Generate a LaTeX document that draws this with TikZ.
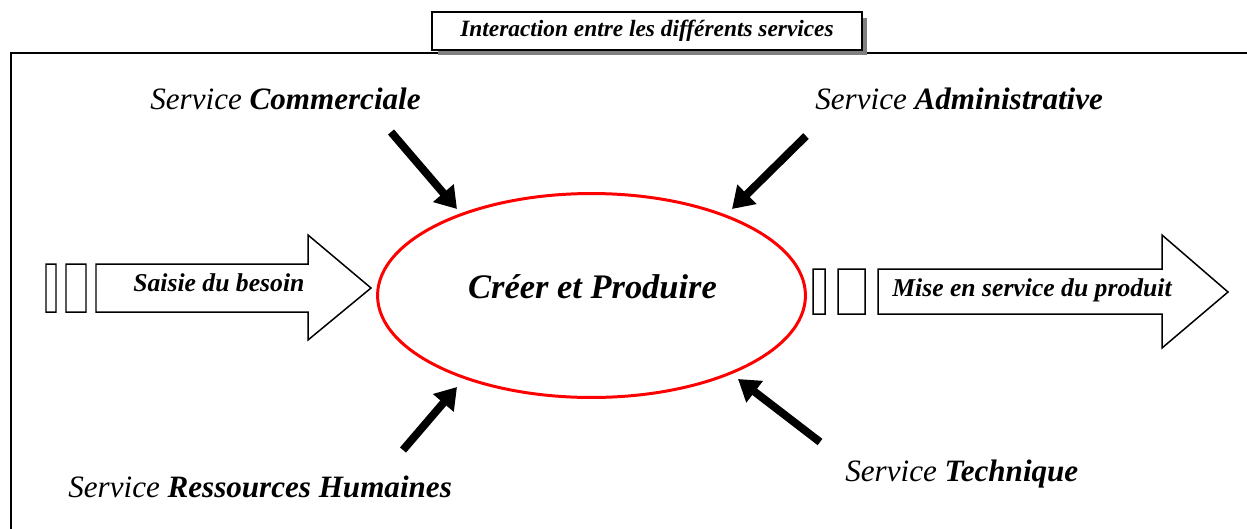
\documentclass[tikz,border=0pt]{standalone}
\usepackage{fontspec}
\setmainfont{Liberation Serif}
\usetikzlibrary{arrows.meta,shapes.geometric,shadows}

\begin{document}
\begin{tikzpicture}[x=0.02cm,y=-0.02cm,
		svc/.style={anchor=base west,inner sep=0,font=\fontsize{17.7}{20}\selectfont\itshape},
		lab/.style={anchor=base west,inner sep=0,font=\fontsize{14.6}{17}\selectfont\bfseries\itshape},
		feed/.style={line width=4.5pt,-{Triangle[length=0.42cm,width=0.52cm]}},
		blk/.style={draw,line width=0.85pt,fill=white}]
			\useasboundingbox (0,0) rectangle (1247,528);
			\draw[line width=1.4pt] (11,560) -- (11,53) -- (1280,53);
			\node[draw,line width=1pt,fill=white,minimum width=8.6cm,minimum height=0.76cm,
				drop shadow={shadow xshift=0.11cm,shadow yshift=-0.11cm,fill=gray,opacity=1}] (t) at (647,31)
				{\fontsize{13.3}{15}\selectfont\bfseries\itshape Interaction entre les différents services};
			\node[ellipse,draw=red,line width=1.7pt,minimum width=8.56cm,minimum height=4.08cm,inner sep=0] (c) at (591.5,295.5) {};
			\node[anchor=base,inner sep=0,font=\fontsize{19.6}{22}\selectfont\bfseries\itshape] (c-l) at (592.5,298) {Créer et Produire};
			\path[blk] (46,264) rectangle (56,312) (66,264) rectangle (86,312)
				(96,264) -- (308,264) -- (308,235) -- (371,288) -- (308,340) -- (308,312) -- (96,312) -- cycle;
			\path[blk] (813,269) rectangle (825,314) (838,269) rectangle (865,314)
				(878,269) -- (1162,269) -- (1162,235) -- (1228,292) -- (1162,348) -- (1162,314) -- (878,314) -- cycle;
			\node[lab] (in) at (133,291) {Saisie du besoin};
			\node[lab] (out) at (892,296) {Mise en service du produit};
			\node[svc] (s-1) at (150,109) {Service \textbf{Commerciale}};
			\node[svc] (s-2) at (815,109) {Service \textbf{Administrative}};
			\node[svc] (s-3) at (68,497) {Service \textbf{Ressources Humaines}};
			\node[svc] (s-4) at (845,481) {Service \textbf{Technique}};
			\coordinate (s-1-a) at (391,132); \coordinate (c-1) at (457,209);
			\coordinate (s-2-a) at (806,136); \coordinate (c-2) at (732,209);
			\coordinate (s-3-a) at (403,450); \coordinate (c-3) at (457,387);
			\coordinate (s-4-a) at (820,442); \coordinate (c-4) at (738,379);
			\path[feed]
			(s-1-a) edge (c-1)
			(s-2-a) edge (c-2)
			(s-3-a) edge (c-3)
			(s-4-a) edge (c-4);
		\end{tikzpicture}
\end{document}
